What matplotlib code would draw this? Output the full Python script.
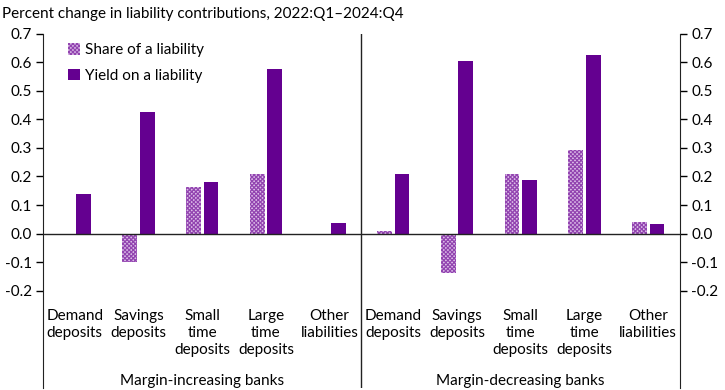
import matplotlib
matplotlib.use("Agg")
import matplotlib.pyplot as plt
import numpy as np

plt.rcParams["font.family"] = ["Lato", "DejaVu Sans"]
plt.rcParams["hatch.linewidth"] = 0.9

categories = ["Demand\ndeposits", "Savings\ndeposits", "Small\ntime\ndeposits",
              "Large\ntime\ndeposits", "Other\nliabilities"]
groups = ["Margin-increasing banks", "Margin-decreasing banks"]
share_increasing = [0.0, -0.10, 0.164, 0.208, 0.0]
yield_increasing = [0.138, 0.427, 0.182, 0.577, 0.036]
share_decreasing = [0.010, -0.137, 0.208, 0.294, 0.039]
yield_decreasing = [0.209, 0.606, 0.186, 0.627, 0.035]
yticks = [-0.2, -0.1, 0.0, 0.1, 0.2, 0.3, 0.4, 0.5, 0.6, 0.7]

purple = "#640090"
lavender = "#dcbde8"

fig = plt.figure(figsize=(7.25, 3.9), dpi=100)
ax = fig.add_axes([0.0593, 0.005, 0.8786, 0.9085])

share = share_increasing + share_decreasing
yields = yield_increasing + yield_decreasing
x = np.arange(len(share))
w = 0.23
off = 0.1375
ax.bar(x - off, share, w, color=lavender, edgecolor="#9244b0", hatch="xxxxxxxx",
       linewidth=0, label="Share of a liability")
ax.bar(x + off, yields, w, color=purple, linewidth=0, label="Yield on a liability")

ax.set_xlim(-0.5, 9.5)
ax.set_ylim(-0.541, 0.7)
ax.set_yticks(yticks)
ax.set_yticklabels([f"{v:.1f}" for v in yticks])
ax.set_xticks([])
ax.tick_params(axis="y", direction="out", length=5, width=1, labelsize=11,
               left=True, right=True, labelleft=True, labelright=True, pad=3)
for side in ("top", "bottom"):
    ax.spines[side].set_visible(False)
for side in ("left", "right"):
    ax.spines[side].set_color("#222222")
ax.axhline(0, color="#222222", lw=1)
ax.axvline(4.5, color="#222222", lw=1)

for i, cat in enumerate(categories * 2):
    ax.text(i, -0.265, cat, ha="center", va="top", fontsize=11, linespacing=1.25)
for g, name in enumerate(groups):
    ax.text(2 + 5 * g, -0.515, name, ha="center", va="center", fontsize=11)

ax.legend(loc="upper left", bbox_to_anchor=(0.085, 0.905), bbox_transform=fig.transFigure,
          frameon=False, fontsize=11, handlelength=0.8, handleheight=0.8,
          handletextpad=0.3, labelspacing=0.75, borderaxespad=0)

fig.text(0.003, 0.965, "Percent change in liability contributions, 2022:Q1\u20132024:Q4",
         ha="left", va="center", fontsize=11)

fig.savefig("out.png", dpi=100)
